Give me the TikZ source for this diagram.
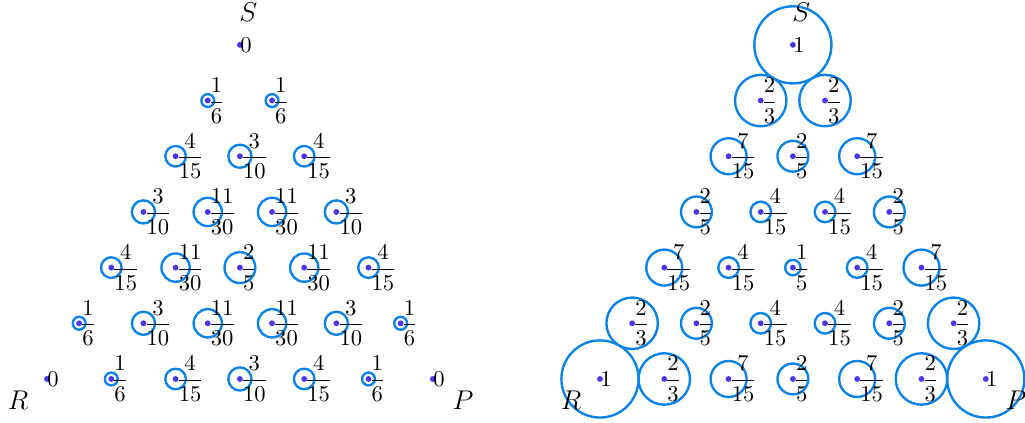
\documentclass[tikz,border=0pt]{standalone}
\usepackage{amsmath}
\usepackage{xcolor}
\usepackage{tikz}
\definecolor{ringblue}{RGB}{10,130,230}
\definecolor{dotblue}{RGB}{75,55,235}

\begin{document}
\begin{tikzpicture}[
  ring/.style={draw=ringblue, line width=1.05pt},
  pt/.style={fill=dotblue},
  val/.style={anchor=west, inner sep=0pt, font=\normalsize},
  corner/.style={font=\large, inner sep=0pt}
]
\useasboundingbox (-0.731,-0.684) rectangle (15.21,5.894);
% left triangle
\foreach \ri/\ck/\vn/\vd in {0/0/0/1,
  1/0/1/6, 1/1/1/6,
  2/0/4/15, 2/1/3/10, 2/2/4/15,
  3/0/3/10, 3/1/11/30, 3/2/11/30, 3/3/3/10,
  4/0/4/15, 4/1/11/30, 4/2/2/5, 4/3/11/30, 4/4/4/15,
  5/0/1/6, 5/1/3/10, 5/2/11/30, 5/3/11/30, 5/4/3/10, 5/5/1/6,
  6/0/0/1, 6/1/1/6, 6/2/4/15, 6/3/3/10, 6/4/4/15, 6/5/1/6, 6/6/0/1}{
  \coordinate (L-\ri-\ck) at ({3-\ri/2+\ck},{(6-\ri)*0.866});
  \ifnum\vn>0 \draw[ring] (L-\ri-\ck) circle[radius=0.6*\vn/\vd]; \fi
  \fill[pt] (L-\ri-\ck) circle[radius=1.3pt];
  \node[val] (Lv-\ri-\ck) at (L-\ri-\ck) {\ifnum\vd=1 $\vn$\else $\dfrac{\vn}{\vd}$\fi};
}
\node[corner] (LS) at (3.13,5.71) {$S$};
\node[corner] (LR) at (-0.45,-0.327) {$R$};
\node[corner] (LP) at (6.47,-0.327) {$P$};

% right triangle
\foreach \ri/\ck/\vn/\vd in {0/0/1/1,
  1/0/2/3, 1/1/2/3,
  2/0/7/15, 2/1/2/5, 2/2/7/15,
  3/0/2/5, 3/1/4/15, 3/2/4/15, 3/3/2/5,
  4/0/7/15, 4/1/4/15, 4/2/1/5, 4/3/4/15, 4/4/7/15,
  5/0/2/3, 5/1/2/5, 5/2/4/15, 5/3/4/15, 5/4/2/5, 5/5/2/3,
  6/0/1/1, 6/1/2/3, 6/2/7/15, 6/3/2/5, 6/4/7/15, 6/5/2/3, 6/6/1/1}{
  \coordinate (R-\ri-\ck) at ({8.6+3-\ri/2+\ck},{(6-\ri)*0.866});
  \ifnum\vn>0 \draw[ring] (R-\ri-\ck) circle[radius=0.6*\vn/\vd]; \fi
  \fill[pt] (R-\ri-\ck) circle[radius=1.3pt];
  \node[val] (Rv-\ri-\ck) at (R-\ri-\ck) {\ifnum\vd=1 $\vn$\else $\dfrac{\vn}{\vd}$\fi};
}
\node[corner] (RS) at (11.73,5.71) {$S$};
\node[corner] (RR) at (8.15,-0.327) {$R$};
\node[corner] (RP) at (15.07,-0.327) {$P$};
\end{tikzpicture}
\end{document}
